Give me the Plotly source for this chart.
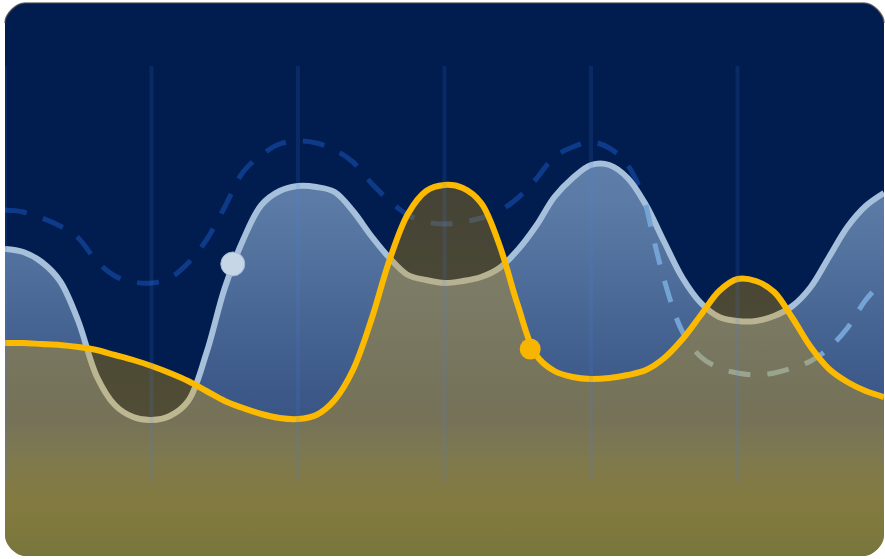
import plotly.graph_objects as go

# ---------------- data ----------------
# common x positions (12 units across the card, gridlines every 2 units)
xs = [i * 0.25 for i in range(49)]

blue_y = [61.4, 60.8, 58.8, 55.0, 47.0, 36.0, 30.2, 27.8, 27.2, 28.0, 31.0, 40.6, 53.6,
          63.2, 70.2, 73.0, 74.0, 73.8, 72.8, 69.0, 64.0, 59.6, 56.2, 55.2, 54.6, 55.0,
          55.8, 57.6, 61.2, 66.0, 71.8, 75.6, 78.2, 78.2, 75.6, 70.2, 62.8, 55.6, 50.6,
          47.8, 47.0, 47.0, 48.0, 50.0, 53.8, 59.8, 65.8, 70.0, 72.6]

yellow_y = [42.6, 42.6, 42.4, 42.2, 41.8, 41.2, 40.2, 39.2, 38.0, 36.6, 35.0, 33.0, 31.0,
            29.6, 28.4, 27.6, 27.4, 28.2, 31.2, 37.2, 47.2, 59.2, 68.4, 73.0, 74.2, 73.6,
            70.6, 62.2, 50.2, 40.2, 37.0, 35.8, 35.4, 35.6, 36.2, 37.2, 39.6, 43.4, 48.2,
            53.0, 55.4, 55.0, 52.8, 47.6, 41.8, 37.4, 34.8, 33.0, 31.8]

dash_y = [69.2, 68.8, 67.6, 66.0, 63.6, 59.0, 56.0, 54.8, 54.6, 55.6, 58.6, 63.2, 69.8,
          76.8, 80.2, 82.4, 83.0, 82.6, 81.2, 78.8, 74.6, 71.0, 68.2, 66.8, 66.4, 66.8,
          67.6, 69.0, 71.6, 75.4, 79.8, 81.8, 82.8, 81.6, 78.2, 70.2, 55.2, 44.8, 39.8,
          37.6, 36.6, 36.2, 36.6, 37.6, 39.0, 41.6, 45.6, 51.2, 55.2]

# highlighted points (x, y) on the blue and yellow curves
blue_point_x, blue_point_y = [3.11], [58.4]
yellow_point_x, yellow_point_y = [7.17], [41.4]

grid_x = [0, 2, 4, 6, 8, 10]
dash_split = 35           # index where the dashed series dips under the blue area

# ---------------- figure ----------------
W, H = 885, 559
L, R, T, B = 5, 1, 3, 3
NAVY = "#011d50"

fig = go.Figure()

# dashed series, dark part (behind the blue area)
fig.add_trace(go.Scatter(
    x=xs, y=dash_y, mode="lines", line_shape="spline",
    line=dict(color="#0d3b8a", width=5, dash="22px,17px"),
    hoverinfo="skip", showlegend=False))

# blue area + line
fig.add_trace(go.Scatter(
    x=xs, y=blue_y, mode="lines", line_shape="spline",
    line=dict(color="#a6bfdb", width=6),
    fill="tozeroy",
    fillgradient=dict(type="vertical", start=0, stop=80,
                      colorscale=[[0, "rgb(45,70,118)"], [0.42, "rgb(60,89,137)"],
                                  [0.88, "rgb(91,123,166)"], [1, "rgb(95,127,170)"]]),
    hoverinfo="skip", showlegend=False))

# dashed series, light part (inside the blue area)
fig.add_trace(go.Scatter(
    x=xs[dash_split:], y=dash_y[dash_split:], mode="lines", line_shape="spline",
    line=dict(color="#74a4d6", width=5, dash="22px,17px"),
    hoverinfo="skip", showlegend=False))

# yellow area + line
fig.add_trace(go.Scatter(
    x=xs, y=yellow_y, mode="lines", line_shape="spline",
    line=dict(color="#fbb900", width=6),
    fill="tozeroy",
    fillgradient=dict(type="vertical", start=0, stop=75,
                      colorscale=[[0, "rgba(122,119,58,0.96)"], [0.3, "rgba(205,163,25,0.45)"],
                                  [0.36, "rgba(235,170,0,0.34)"], [1, "rgba(200,140,0,0.34)"]]),
    hoverinfo="skip", showlegend=False))

# highlighted points
fig.add_trace(go.Scatter(
    x=blue_point_x, y=blue_point_y, mode="markers",
    marker=dict(size=24, color="#c6d6e7", line=dict(width=1, color="#9fb6d0")),
    hoverinfo="skip", showlegend=False))
fig.add_trace(go.Scatter(
    x=yellow_point_x, y=yellow_point_y, mode="markers",
    marker=dict(size=21, color="#f7b500", line=dict(width=0)),
    hoverinfo="skip", showlegend=False))

# helpers to place decoration in paper coords from pixel positions
def px(xp):
    return (xp - L) / (W - L - R)

def py(yp):
    return (H - B - yp) / (H - T - B)

def path(points_cmds):
    out = []
    for cmd, pts in points_cmds:
        coords = " ".join(f"{px(a):.5f},{py(b):.5f}" for a, b in pts)
        out.append(f"{cmd}{coords}")
    return " ".join(out) + " Z"

shapes = []
# faint vertical grid lines
for gx in grid_x:
    shapes.append(dict(type="line", xref="x", yref="y", x0=gx, x1=gx, y0=15, y1=98,
                       line=dict(color="rgba(70,130,240,0.13)", width=4), layer="above"))

# rounded-corner masks
r = 20
x0, x1, y0, y1 = L, W - R, T, H - B
k = 0.45 * r
corners = [
    [("M", [(x0 - 2, y0 - 2)]), ("L", [(x0 - 2, y0 + r)]), ("L", [(x0, y0 + r)]),
     ("C", [(x0, y0 + r - k), (x0 + r - k, y0), (x0 + r, y0)]), ("L", [(x0 + r, y0 - 2)])],
    [("M", [(x1 + 2, y0 - 2)]), ("L", [(x1 - r, y0 - 2)]), ("L", [(x1 - r, y0)]),
     ("C", [(x1 - r + k, y0), (x1, y0 + r - k), (x1, y0 + r)]), ("L", [(x1 + 2, y0 + r)])],
    [("M", [(x0 - 2, y1 + 2)]), ("L", [(x0 - 2, y1 - r)]), ("L", [(x0, y1 - r)]),
     ("C", [(x0, y1 - r + k), (x0 + r - k, y1), (x0 + r, y1)]), ("L", [(x0 + r, y1 + 2)])],
    [("M", [(x1 + 2, y1 + 2)]), ("L", [(x1 - r, y1 + 2)]), ("L", [(x1 - r, y1)]),
     ("C", [(x1 - r + k, y1), (x1, y1 - r + k), (x1, y1 - r)]), ("L", [(x1 + 2, y1 - r)])],
]
for c in corners:
    shapes.append(dict(type="path", xref="paper", yref="paper", path=path(c),
                       fillcolor="white", line=dict(width=0), layer="above"))

# thin shadow line along the top edge
top_edge = ("M{0},{1} C{2},{3} {4},{5} {6},{7} L{8},{9} C{10},{11} {12},{13} {14},{15}").format(
    f"{px(x0):.5f}", f"{py(y0 + r):.5f}",
    f"{px(x0):.5f}", f"{py(y0 + r - k):.5f}", f"{px(x0 + r - k):.5f}", f"{py(y0):.5f}",
    f"{px(x0 + r):.5f}", f"{py(y0):.5f}",
    f"{px(x1 - r):.5f}", f"{py(y0):.5f}",
    f"{px(x1 - r + k):.5f}", f"{py(y0):.5f}", f"{px(x1):.5f}", f"{py(y0 + r - k):.5f}",
    f"{px(x1):.5f}", f"{py(y0 + r):.5f}")
shapes.append(dict(type="path", xref="paper", yref="paper", path=top_edge,
                   line=dict(color="rgba(70,70,70,0.75)", width=1.5), layer="above"))

fig.update_layout(
    width=W, height=H,
    margin=dict(l=L, r=R, t=T, b=B, pad=0),
    paper_bgcolor="white",
    plot_bgcolor=NAVY,
    xaxis=dict(range=[0, 12], visible=False, fixedrange=True),
    yaxis=dict(range=[0, (H - T - B) / 5], visible=False, fixedrange=True),
    shapes=shapes,
    showlegend=False,
)

fig.write_html("out.html", config={"displayModeBar": False},
               post_script="document.body.style.margin='0';document.body.style.overflow='hidden';")
